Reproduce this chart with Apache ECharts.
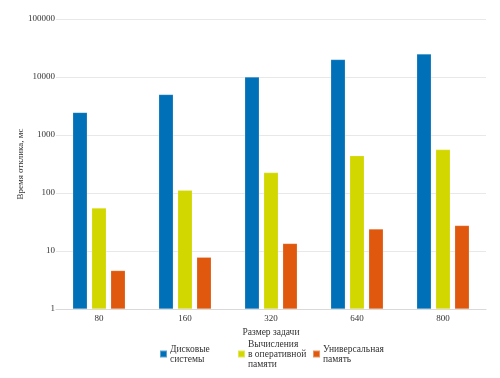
<!DOCTYPE html>
<html><head><meta charset="utf-8">
<script src="https://cdn.jsdelivr.net/npm/echarts@6/dist/echarts.min.js"></script>
<style>html,body{margin:0;padding:0;background:#fff}#c{width:500px;height:378px}</style>
</head><body><div id="c"></div>
<script>
const categories = ['80', '160', '320', '640', '800'];
const seriesNames = ['Дисковые\nсистемы', 'Вычисления\nв оперативной\nпамяти', 'Универсальная\nпамять'];
const diskValues = [2450, 5000, 10000, 20000, 25000];
const ramValues = [55, 112, 225, 440, 560];
const universalValues = [4.6, 7.8, 13.5, 24, 27.5];
const yTickLabels = ['1', '10', '100', '1000', '10000', '100000'];
const yAxisTitle = 'Время отклика, мс';
const xAxisTitle = 'Размер задачи';

const colors = ['#0071B9', '#D3D700', '#E0580E'];
const font = 'Liberation Serif';
const textColor = '#333333';
const chart = echarts.init(document.getElementById('c'), null, {renderer: 'canvas'});
const values = [diskValues, ramValues, universalValues];
const legendLefts = [159, 237, 312];
const legendTops = [344, 339, 344];
chart.setOption({
  animation: false,
  grid: {left: 56, right: 14, top: 19, bottom: 69},
  legend: seriesNames.map((n, i) => ({
    data: [n], left: legendLefts[i], top: legendTops[i], itemWidth: 7, itemHeight: 7,
    icon: 'rect', itemGap: 0, padding: 0,
    textStyle: {fontFamily: font, fontSize: 9.5, color: textColor, lineHeight: 10, padding: [0, 0, 0, -2]}
  })),
  xAxis: {
    type: 'category', data: categories,
    name: xAxisTitle, nameLocation: 'middle', nameGap: 17,
    nameTextStyle: {fontFamily: font, fontSize: 9.5, color: textColor},
    axisLine: {lineStyle: {color: '#d9d9d9'}},
    axisTick: {show: false},
    axisLabel: {fontFamily: font, fontSize: 9, color: textColor, margin: 5}
  },
  yAxis: {
    type: 'log', logBase: 10, min: 1, max: 100000,
    name: yAxisTitle, nameLocation: 'middle', nameGap: 31, nameMoveOverlap: false,
    nameTextStyle: {fontFamily: font, fontSize: 9, color: textColor},
    axisLine: {show: false}, axisTick: {show: false},
    splitLine: {lineStyle: {color: '#e8e8e8'}},
    axisLabel: {fontFamily: font, fontSize: 9, color: textColor, margin: 1,
      formatter: v => yTickLabels.includes(String(Math.round(v))) ? String(Math.round(v)) : ''}
  },
  series: values.map((d, i) => ({
    name: seriesNames[i], type: 'bar', data: d, barWidth: 14.5, barGap: '31%',
    itemStyle: {color: colors[i], borderColor: 'rgba(255,255,255,0.35)', borderWidth: 0.5}
  }))
});
</script></body></html>
